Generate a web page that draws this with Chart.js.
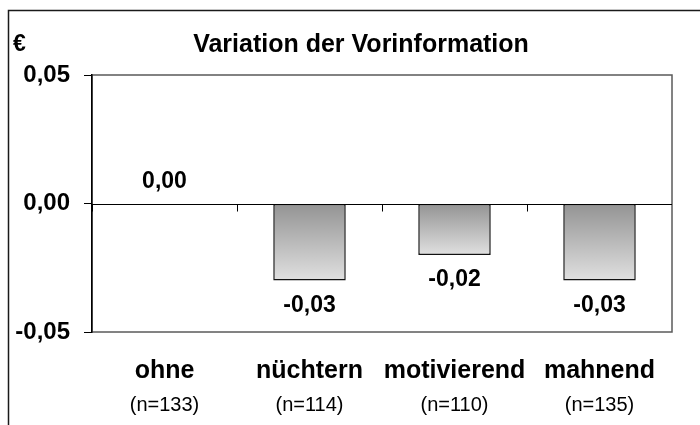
<!DOCTYPE html>
<html><head><meta charset="utf-8">
<script src="https://cdn.jsdelivr.net/npm/chart.js@4"></script>
<style>html,body{margin:0;padding:0;background:#fff}#wrap{width:700px;height:425px;position:relative}</style>
</head><body><div id="wrap"><canvas id="c" width="700" height="425"></canvas></div>
<script>
const categories = ['ohne', 'nüchtern', 'motivierend', 'mahnend'];
const sampleSizes = ['(n=133)', '(n=114)', '(n=110)', '(n=135)'];
const values = [0.00, -0.03, -0.02, -0.03];
const yTicks = [-0.05, 0, 0.05];
const titleText = 'Variation der Vorinformation';
const unitText = '€';

const FONT = "'Liberation Sans', Arial, sans-serif";
function fmt(v) { if (Math.abs(v) < 1e-9) v = 0; return v.toFixed(2).replace('.', ','); }

const decor = {
  id: 'decor',
  beforeDraw(chart) {
    const { ctx, chartArea: a } = chart;
    ctx.save();
    ctx.fillStyle = '#fff';
    ctx.fillRect(0, 0, chart.width, chart.height);
    // outer frame (clipped)
    ctx.strokeStyle = '#1a1a1a';
    ctx.lineWidth = 1.5;
    ctx.beginPath();
    ctx.moveTo(8.5, 425); ctx.lineTo(8.5, 10.5); ctx.lineTo(700, 10.5);
    ctx.stroke();
    // plot area border
    ctx.strokeStyle = '#5a5a5a';
    ctx.lineWidth = 1.5;
    ctx.strokeRect(a.left, a.top, a.right - a.left, a.bottom - a.top);
    // texts
    ctx.fillStyle = '#000';
    ctx.textBaseline = 'alphabetic';
    ctx.font = 'bold 25px ' + FONT;
    ctx.textAlign = 'center';
    ctx.fillText(titleText, 361, 52);
    ctx.font = 'bold 23px ' + FONT;
    ctx.textAlign = 'left';
    ctx.fillText(unitText, 13, 51);
    ctx.restore();
  },
  afterDatasetsDraw(chart) {
    const { ctx, chartArea: a, scales } = chart;
    const y0 = Math.round(scales.y.getPixelForValue(0)) + 0.5;
    ctx.save();
    ctx.strokeStyle = '#000';
    ctx.lineWidth = 1;
    ctx.beginPath();
    ctx.moveTo(a.left, y0); ctx.lineTo(a.right, y0);
    const n = categories.length;
    for (let i = 0; i < n; i++) {
      const xb = Math.round(a.left + (a.right - a.left) * i / n) + 0.5;
      ctx.moveTo(xb, y0); ctx.lineTo(xb, y0 + 7);
    }
    ctx.stroke();
    // data labels
    const meta = chart.getDatasetMeta(0);
    ctx.fillStyle = '#000';
    ctx.font = 'bold 23px ' + FONT;
    ctx.textAlign = 'center';
    ctx.textBaseline = 'middle';
    meta.data.forEach((el, i) => {
      const v = values[i];
      const y = v >= 0 ? el.y - 22 : el.y + 25;
      ctx.fillText(fmt(v), el.x, y);
    });
    ctx.restore();
  }
};

new Chart(document.getElementById('c'), {
  type: 'bar',
  data: {
    labels: categories,
    datasets: [{
      data: values,
      xAxisID: 'x',
      barPercentage: 0.5,
      categoryPercentage: 1,
      borderColor: '#111',
      borderWidth: (c) => (c.raw === 0 ? 0 : 1.5),
      borderSkipped: false,
      backgroundColor: (c) => {
        const chart = c.chart; const { ctx, chartArea, scales } = chart;
        if (!chartArea || c.type !== 'data') return '#bbb';
        const y0 = scales.y.getPixelForValue(0), y1 = scales.y.getPixelForValue(c.raw);
        if (Math.abs(y1 - y0) < 1) return '#bbb';
        const g = ctx.createLinearGradient(0, y0, 0, y1);
        g.addColorStop(0, '#939393');
        g.addColorStop(1, '#e0e0e0');
        return g;
      }
    }]
  },
  options: {
    responsive: false,
    devicePixelRatio: 1,
    animation: false,
    layout: { padding: { top: 75, right: 28, left: 0, bottom: 0 } },
    plugins: { legend: { display: false }, title: { display: false }, tooltip: { enabled: false } },
    scales: {
      y: {
        min: -0.05, max: 0.05,
        afterBuildTicks(s) { s.ticks = yTicks.map(v => ({ value: v })); },
        afterFit(s) { s.width = 92; },
        border: { display: true, color: '#000', width: 1.5 },
        grid: { drawOnChartArea: false, drawTicks: true, tickLength: 8, color: '#000', lineWidth: 1 },
        ticks: { padding: 14, color: '#000', font: { family: FONT, size: 24, weight: 'bold' }, callback: (v) => fmt(v) }
      },
      x: {
        type: 'category',
        position: 'bottom',
        offset: true,
        afterFit(s) { s.height = 58; },
        border: { display: false },
        grid: { display: false, drawTicks: false },
        ticks: { padding: 24, color: '#000', maxRotation: 0, autoSkip: false, font: { family: FONT, size: 25, weight: 'bold' } }
      },
      x2: {
        type: 'category',
        labels: sampleSizes,
        position: 'bottom',
        offset: true,
        afterFit(s) { s.height = 35; },
        border: { display: false },
        grid: { display: false, drawTicks: false },
        ticks: { padding: 3, color: '#000', maxRotation: 0, autoSkip: false, font: { family: FONT, size: 20 } }
      }
    }
  },
  plugins: [decor]
});
</script></body></html>
